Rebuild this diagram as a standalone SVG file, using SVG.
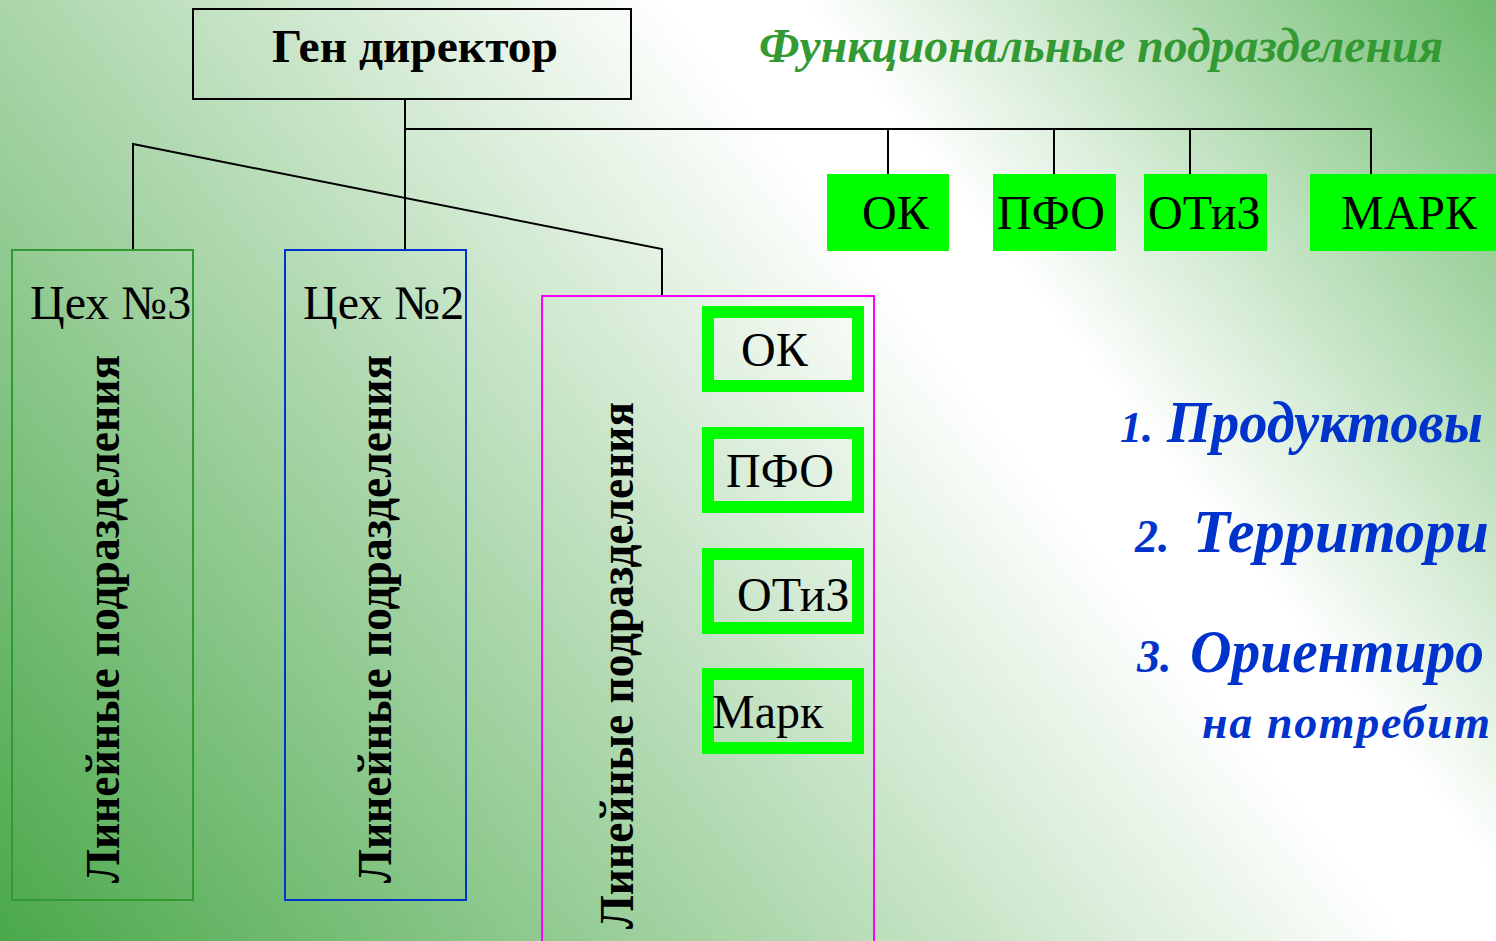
<svg xmlns="http://www.w3.org/2000/svg" width="1496" height="941" viewBox="0 0 1496 941">
<defs>
<linearGradient id="bg" gradientUnits="userSpaceOnUse" x1="0" y1="941" x2="1376" y2="-150">
<stop offset="0" stop-color="#4aa84a"/>
<stop offset="0.63" stop-color="#ffffff"/>
<stop offset="0.69" stop-color="#ffffff"/>
<stop offset="1" stop-color="#6fbc6f"/>
</linearGradient>
<style>
.ln{stroke:#000;stroke-width:2;fill:none}
.serif{font-family:"Liberation Serif","Times New Roman",serif}
.lbl{font-family:"Liberation Serif","Times New Roman",serif;font-size:48px;fill:#000}
.vert{font-family:"Liberation Serif","Times New Roman",serif;font-size:48px;font-weight:bold;fill:#000}
.fbox{fill:#00ff00;stroke:none}
.ibox{fill:none;stroke:#00ff00;stroke-width:12}
.blue{font-family:"Liberation Serif","Times New Roman",serif;font-weight:bold;font-style:italic;fill:#0033cc}
</style>
</defs>
<rect x="0" y="0" width="1496" height="941" fill="url(#bg)"/>

<g id="connectors">
<line class="ln" x1="405" y1="99" x2="405" y2="250"/>
<line class="ln" x1="404" y1="129" x2="1372" y2="129"/>
<line class="ln" x1="888" y1="129" x2="888" y2="174"/>
<line class="ln" x1="1054" y1="129" x2="1054" y2="174"/>
<line class="ln" x1="1190" y1="129" x2="1190" y2="174"/>
<line class="ln" x1="1371" y1="129" x2="1371" y2="174"/>
<polyline class="ln" points="133,250 133,144 662,249 662,296"/>
</g>

<g id="gen-director">
<rect x="193" y="9" width="438" height="90" fill="none" stroke="#000" stroke-width="2"/>
<text class="serif" x="415" y="62" font-size="46" font-weight="bold" text-anchor="middle" textLength="286" lengthAdjust="spacingAndGlyphs">Ген директор</text>
</g>

<g id="title">
<text class="serif" x="759" y="62" font-size="48" font-weight="bold" font-style="italic" fill="#339933" textLength="684" lengthAdjust="spacingAndGlyphs">Функциональные подразделения</text>
</g>

<g id="func-ok">
<rect class="fbox" x="827" y="174" width="122" height="77"/>
<text class="lbl" x="862" y="229">ОК</text>
</g>
<g id="func-pfo">
<rect class="fbox" x="993" y="174" width="123" height="77"/>
<text class="lbl" x="997" y="229">ПФО</text>
</g>
<g id="func-otiz">
<rect class="fbox" x="1144" y="174" width="123" height="77"/>
<text class="lbl" x="1148" y="229">ОТиЗ</text>
</g>
<g id="func-mark">
<rect class="fbox" x="1310" y="174" width="190" height="77"/>
<text class="lbl" x="1341" y="229">МАРК</text>
</g>

<g id="ceh3">
<rect x="12" y="250" width="181" height="650" fill="none" stroke="#339933" stroke-width="2"/>
<text class="lbl" x="30" y="319">Цех №3</text>
<text class="vert" transform="translate(119,883) rotate(-90)" textLength="528" lengthAdjust="spacingAndGlyphs">Линейные подразделения</text>
</g>

<g id="ceh2">
<rect x="285" y="250" width="181" height="650" fill="none" stroke="#0033cc" stroke-width="2"/>
<text class="lbl" x="303" y="319">Цех №2</text>
<text class="vert" transform="translate(391,883) rotate(-90)" textLength="528" lengthAdjust="spacingAndGlyphs">Линейные подразделения</text>
</g>

<g id="ceh1">
<rect x="542" y="296" width="332" height="660" fill="none" stroke="#ff00ff" stroke-width="2"/>
<text class="vert" transform="translate(633,929) rotate(-90)" textLength="527" lengthAdjust="spacingAndGlyphs">Линейные подразделения</text>
</g>

<g id="in-ok">
<rect class="ibox" x="708" y="312" width="150" height="74"/>
<text class="lbl" x="741" y="366">ОК</text>
</g>
<g id="in-pfo">
<rect class="ibox" x="708" y="433" width="150" height="74"/>
<text class="lbl" x="726" y="487">ПФО</text>
</g>
<g id="in-otiz">
<rect class="ibox" x="708" y="554" width="150" height="74"/>
<text class="lbl" x="737" y="611">ОТиЗ</text>
</g>
<g id="in-mark">
<rect class="ibox" x="708" y="674" width="150" height="74"/>
<text class="lbl" x="712" y="728">Марк</text>
</g>

<g id="list">
<text class="blue" x="1120" y="442" font-size="44">1.</text>
<text class="blue" x="1167" y="442" font-size="60" textLength="316" lengthAdjust="spacingAndGlyphs">Продуктовы</text>
<text class="blue" x="1135" y="552" font-size="46">2.</text>
<text class="blue" x="1193" y="552" font-size="62" textLength="296" lengthAdjust="spacingAndGlyphs">Территори</text>
<text class="blue" x="1137" y="672" font-size="46">3.</text>
<text class="blue" x="1190" y="672" font-size="62" textLength="294" lengthAdjust="spacingAndGlyphs">Ориентиро</text>
<text class="blue" x="1202" y="738" font-size="46" textLength="288" lengthAdjust="spacing">на потребит</text>
</g>
</svg>
